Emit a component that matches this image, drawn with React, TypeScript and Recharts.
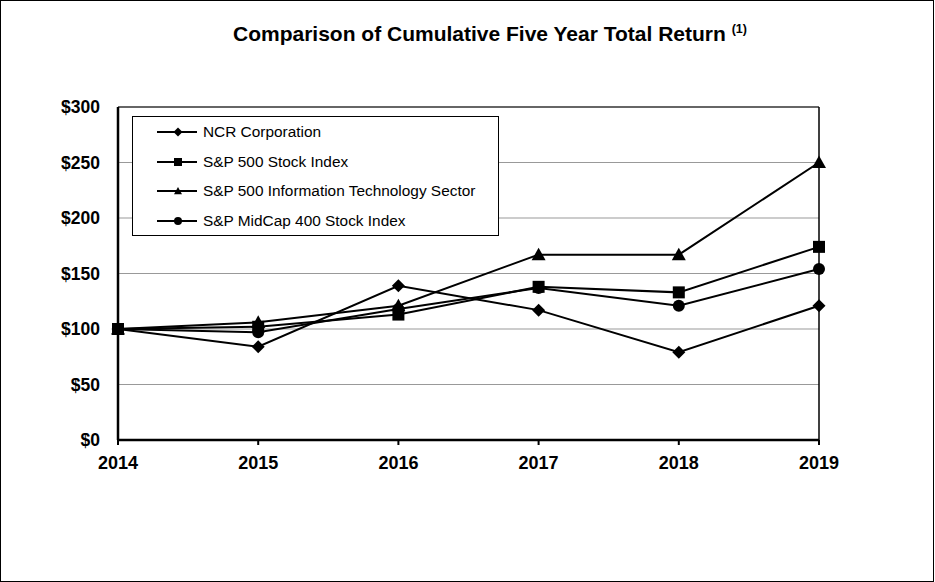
import React from 'react';
import {
  LineChart,
  Line,
  XAxis,
  YAxis,
  CartesianGrid,
  Legend,
  ReferenceLine,
} from 'recharts';

const years = ['2014', '2015', '2016', '2017', '2018', '2019'];
const ncr = [100, 84, 139, 117, 79, 121];
const sp500 = [100, 102, 113, 138, 133, 174];
const spTech = [100, 106, 121, 167, 167, 250];
const midcap = [100, 97, 118, 137, 121, 154];
const yTicks = [0, 50, 100, 150, 200, 250, 300];

const seriesList = [
  { key: 'ncr', name: 'NCR Corporation', marker: 'diamond' },
  { key: 'sp500', name: 'S&P 500 Stock Index', marker: 'square' },
  { key: 'spTech', name: 'S&P 500 Information Technology Sector', marker: 'triangle' },
  { key: 'midcap', name: 'S&P MidCap 400 Stock Index', marker: 'circle' },
];

const data = years.map((year, i) => ({
  year,
  ncr: ncr[i],
  sp500: sp500[i],
  spTech: spTech[i],
  midcap: midcap[i],
}));

const FONT = '"Liberation Sans", Arial, sans-serif';

function Marker({ kind, cx, cy, r }: { kind: string; cx: number; cy: number; r: number }) {
  if (kind === 'diamond') {
    return (
      <polygon
        points={`${cx},${cy - r} ${cx + r},${cy} ${cx},${cy + r} ${cx - r},${cy}`}
        fill="#000"
      />
    );
  }
  if (kind === 'square') {
    return <rect x={cx - r} y={cy - r} width={r * 2} height={r * 2} fill="#000" />;
  }
  if (kind === 'triangle') {
    return (
      <polygon
        points={`${cx},${cy - r} ${cx + r},${cy + r * 0.8} ${cx - r},${cy + r * 0.8}`}
        fill="#000"
      />
    );
  }
  return <circle cx={cx} cy={cy} r={r} fill="#000" />;
}

const dotSize: Record<string, number> = { diamond: 6.5, square: 6, triangle: 7, circle: 6 };

function makeDot(kind: string) {
  return (p: any) => (
    <Marker key={`${kind}-${p.index}`} kind={kind} cx={p.cx} cy={p.cy} r={dotSize[kind]} />
  );
}

function LegendBox() {
  return (
    <div
      style={{
        width: 367,
        height: 120,
        border: '1px solid #000',
        background: '#fff',
        boxSizing: 'border-box',
        fontFamily: FONT,
        fontSize: 15.4,
        color: '#000',
        paddingTop: 0,
      }}
    >
      {seriesList.map((s) => (
        <div key={s.key} style={{ height: 29.7, display: 'flex', alignItems: 'center' }}>
          <svg width={70} height={14} style={{ flex: 'none' }}>
            <line x1={24} y1={7} x2={64} y2={7} stroke="#000" strokeWidth={2} />
            <Marker kind={s.marker} cx={45} cy={7} r={s.marker === 'diamond' ? 4.5 : 4} />
          </svg>
          <span>{s.name}</span>
        </div>
      ))}
    </div>
  );
}

export default function App() {
  const drawOrder = ['ncr', 'midcap', 'spTech', 'sp500'];
  return (
    <div style={{ position: 'absolute', left: 0, top: 0, width: 934, height: 582 }}>
      <div
        style={{
          position: 'absolute',
          left: 0,
          top: 0,
          width: 934,
          height: 582,
          border: '1px solid #000',
          boxSizing: 'border-box',
          pointerEvents: 'none',
        }}
      />
      <div
        style={{
          position: 'absolute',
          left: 233,
          top: 22,
          fontFamily: FONT,
          fontWeight: 'bold',
          fontSize: 21,
          color: '#000',
          whiteSpace: 'nowrap',
        }}
      >
        Comparison of Cumulative Five Year Total Return{' '}
        <sup style={{ fontSize: 12.5 }}>(1)</sup>
      </div>
      <LineChart
        width={934}
        height={582}
        data={data}
        margin={{ top: 107, right: 115, bottom: 112, left: 0 }}
      >
        <CartesianGrid vertical={false} stroke="#999" />
        <XAxis
          dataKey="year"
          height={30}
          tickSize={5}
          tickMargin={11}
          tickLine={{ stroke: '#000', strokeWidth: 2 }}
          axisLine={{ stroke: '#000', strokeWidth: 2.5 }}
          tick={{ fill: '#000', fontFamily: FONT, fontWeight: 'bold', fontSize: 18 }}
        />
        <YAxis
          width={118}
          domain={[0, 300]}
          ticks={yTicks}
          tickFormatter={(v) => `$${v}`}
          tickLine={false}
          tickSize={0}
          tickMargin={18}
          axisLine={{ stroke: '#000', strokeWidth: 2.5 }}
          tick={{ fill: '#000', fontFamily: FONT, fontWeight: 'bold', fontSize: 17.5 }}
        />
        <ReferenceLine y={300} stroke="#000" strokeWidth={1} />
        <ReferenceLine x="2019" stroke="#000" strokeWidth={1.5} />
        {drawOrder.map((k) => {
          const s = seriesList.find((x) => x.key === k)!;
          return (
            <Line
              key={s.key}
              dataKey={s.key}
              name={s.name}
              type="linear"
              stroke="#000"
              strokeWidth={2}
              dot={makeDot(s.marker)}
              activeDot={false}
              isAnimationActive={false}
            />
          );
        })}
        <Legend
          layout="vertical"
          align="center"
          verticalAlign="middle"
          wrapperStyle={{ left: 132, top: 116, width: 367, height: 120 }}
          content={() => <LegendBox />}
        />
      </LineChart>
    </div>
  );
}
